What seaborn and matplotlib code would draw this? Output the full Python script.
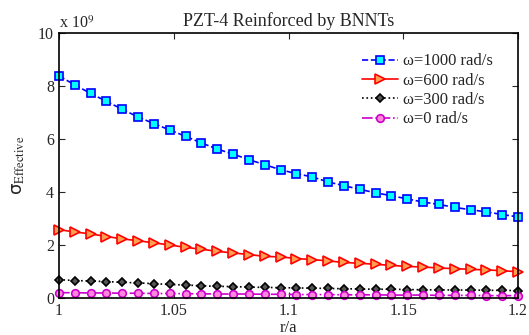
#PZT-4 reinforced by BNNTs
#effective stress vs r/a for several angular velocities
import numpy as np
import pandas as pd
import seaborn as sns
import matplotlib.pyplot as plt

# r/a positions (30 points from 1 to 1.2)
r_a = np.linspace(1.0, 1.2, 30)

# sigma effective, in units of 1e9
w1000 = [8.38, 8.04, 7.72, 7.42, 7.12, 6.83, 6.58, 6.34, 6.10, 5.85,
         5.62, 5.43, 5.22, 5.03, 4.84, 4.69, 4.57, 4.38, 4.24, 4.10,
         3.97, 3.86, 3.74, 3.62, 3.53, 3.42, 3.33, 3.25, 3.15, 3.06]
w600 = [2.58, 2.49, 2.42, 2.32, 2.23, 2.16, 2.08, 2.00, 1.91, 1.84,
        1.76, 1.70, 1.64, 1.57, 1.55, 1.49, 1.45, 1.40, 1.34, 1.31,
        1.27, 1.23, 1.19, 1.17, 1.13, 1.11, 1.08, 1.06, 1.03, 0.99]
w300 = [0.69, 0.66, 0.64, 0.62, 0.59, 0.57, 0.54, 0.51, 0.49, 0.46,
        0.44, 0.43, 0.41, 0.40, 0.39, 0.38, 0.37, 0.36, 0.35, 0.34,
        0.33, 0.33, 0.32, 0.31, 0.31, 0.30, 0.30, 0.29, 0.29, 0.28]
w0 = [0.20, 0.20, 0.19, 0.19, 0.18, 0.18, 0.17, 0.17, 0.16, 0.16,
      0.15, 0.15, 0.15, 0.14, 0.14, 0.13, 0.13, 0.13, 0.12, 0.12,
      0.12, 0.11, 0.11, 0.11, 0.10, 0.10, 0.10, 0.09, 0.09, 0.09]

labels = ["ω=1000 rad/s", "ω=600 rad/s", "ω=300 rad/s", "ω=0 rad/s"]
x_ticks = [1, 1.05, 1.1, 1.15, 1.2]
x_tick_labels = ["1", "1.05", "1.1", "1.15", "1.2"]
y_ticks = [0, 2, 4, 6, 8, 10]

sns.set_theme(style="ticks")
plt.rcParams["font.family"] = ["Liberation Serif", "DejaVu Serif"]
plt.rcParams["mathtext.fontset"] = "stix"

fig = plt.figure(figsize=(5.29, 3.35), dpi=100)
ax = fig.add_axes([59/529, 1 - 298/335, (518-59)/529, (298-33)/335])

styles = [
    dict(color="blue", linestyle="--", marker="s", markerfacecolor="cyan",
         markeredgecolor="blue", markersize=5.5),
    dict(color="red", linestyle="-", marker=">", markerfacecolor="#ffa050",
         markeredgecolor="red", markersize=6.5),
    dict(color="black", linestyle=":", marker="D", markerfacecolor="#555555",
         markeredgecolor="black", markersize=4.5),
    dict(color="#cc00cc", linestyle="-.", marker="o", markerfacecolor="#ff88dd",
         markeredgecolor="#cc00cc", markersize=5.5),
]

for vals, lab, st in zip([w1000, w600, w300, w0], labels, styles):
    df = pd.DataFrame({"r/a": r_a, "sigma": vals})
    sns.lineplot(data=df, x="r/a", y="sigma", label=lab, ax=ax,
                 linewidth=1.2, markeredgewidth=1.2, clip_on=False, **st)

ax.set_xlim(1, 1.2)
ax.set_ylim(0, 10)
ax.set_xticks(x_ticks)
ax.set_xticklabels(x_tick_labels)
ax.set_yticks(y_ticks)
ax.tick_params(direction="in", top=True, right=True, labelsize=11.5, length=4, width=0.8)
for s in ax.spines.values():
    s.set_linewidth(1.2)
    s.set_color("black")

ax.set_title("PZT-4 Reinforced by BNNTs", fontsize=13, pad=5)
ax.set_xlabel("r/a", fontsize=12, labelpad=1)
ax.set_ylabel(r"σ$_{\mathrm{Effective}}$", fontsize=13, labelpad=8,
              family=["DejaVu Sans"])
ax.text(0.0, 1.005, r"x 10$^{9}$", transform=ax.transAxes, fontsize=11.5,
        ha="left", va="bottom")

leg = ax.legend(loc="upper left", bbox_to_anchor=(0.645, 0.948), frameon=False,
                fontsize=12, handlelength=2.2, borderaxespad=0.0,
                labelspacing=0.2, handletextpad=0.3)

fig.savefig("out.png", dpi=100)
